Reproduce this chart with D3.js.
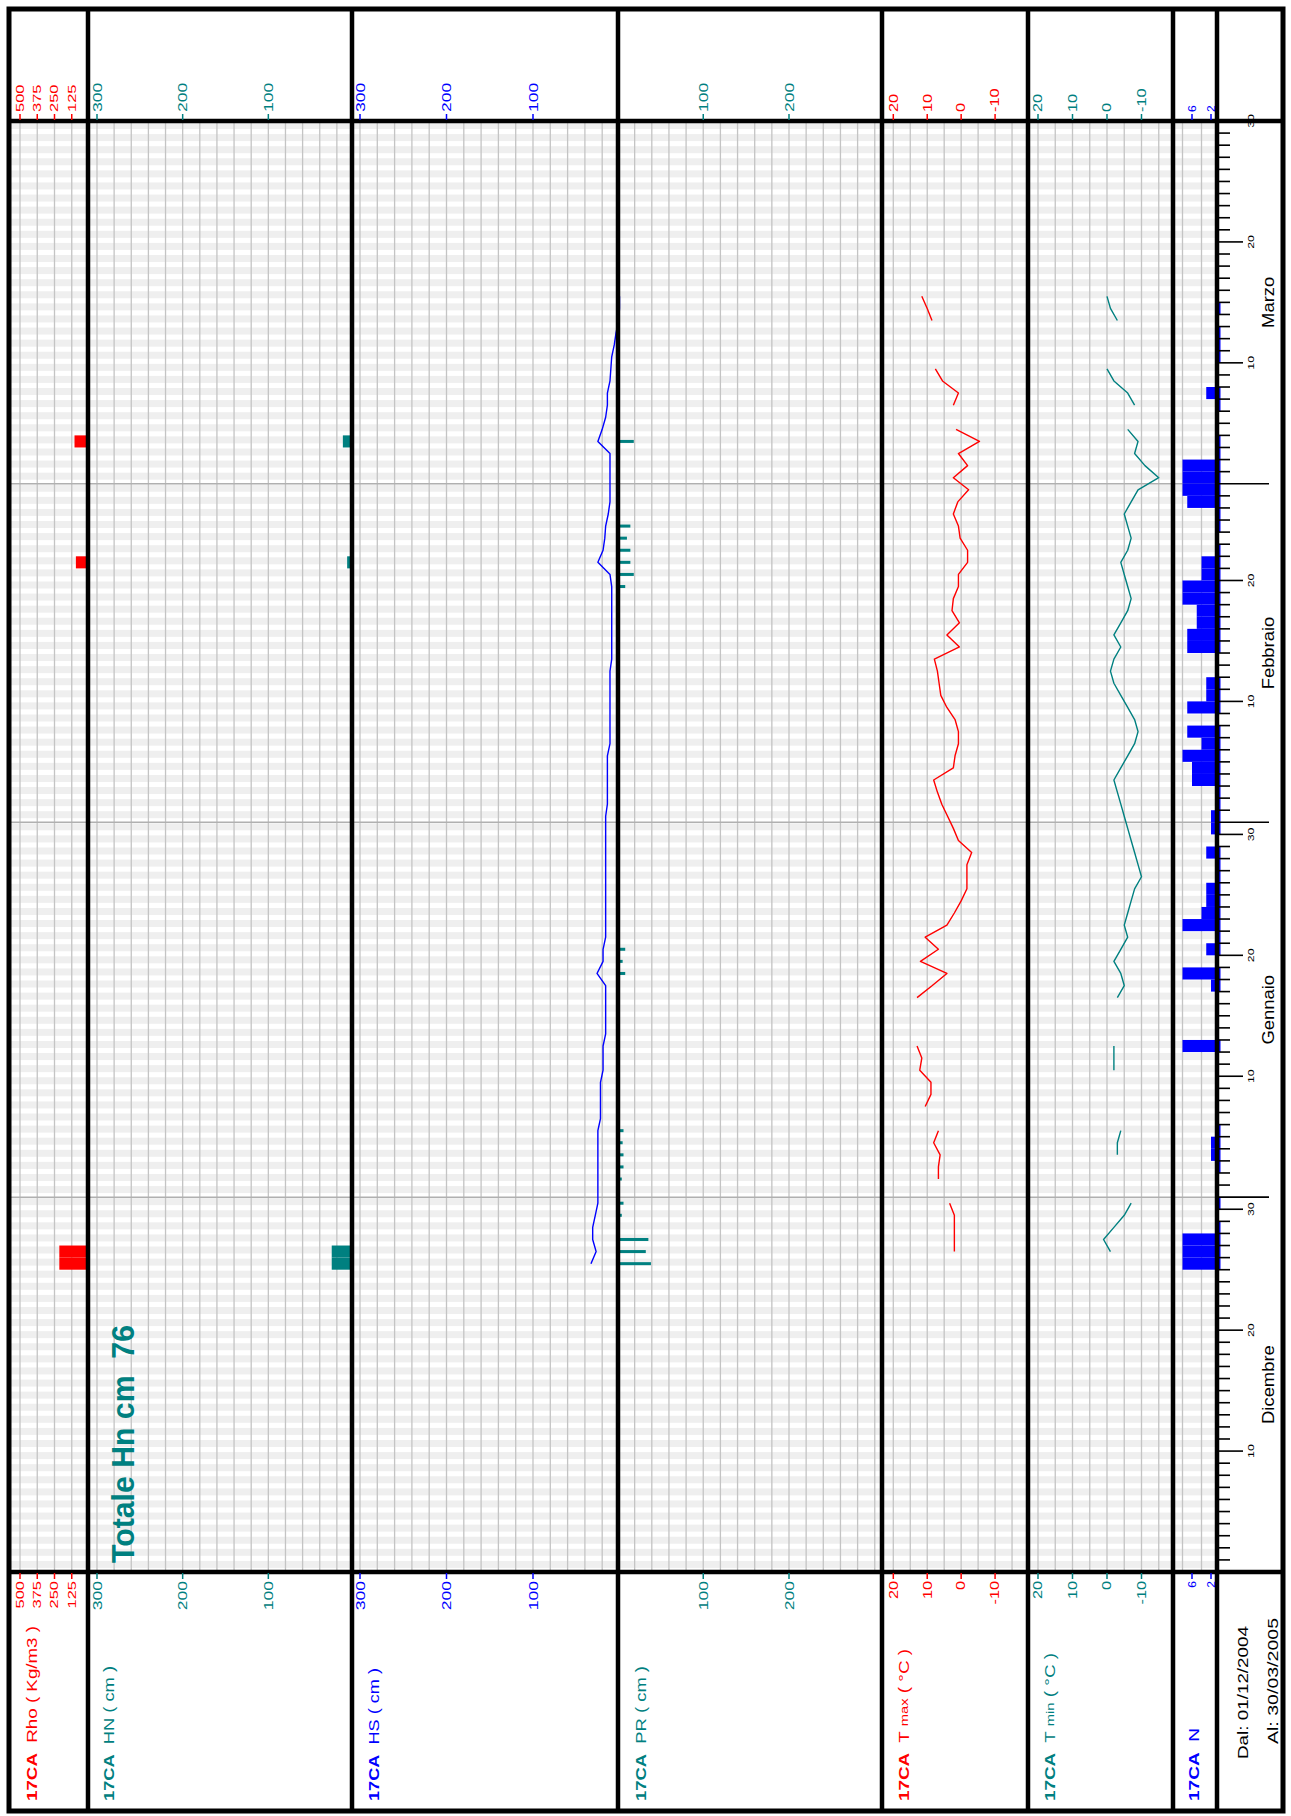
<!DOCTYPE html>
<html><head><meta charset="utf-8">
<script src="https://cdn.jsdelivr.net/npm/d3@7"></script>
<style>body{margin:0;background:#fff}svg{display:block}text{font-family:"Liberation Sans",Arial,sans-serif}</style>
</head><body><svg id="c" width="1291" height="1816"></svg>
<script>
// ---------------- DATA ----------------
const periodStart = "2004-12-01";
const periodDays = 120;
const monthNames = ["Dicembre", "Gennaio", "Febbraio", "Marzo"];
const monthLengths = [31, 31, 28, 30];
const dayLabels = [10, 20, 30];

// tick labels of each panel
const rhoTicks = [500, 375, 250, 125];
const hnTicks = [300, 200, 100];
const hsTicks = [300, 200, 100];
const prTicks = [100, 200];
const tTicks = [20, 10, 0, -10];
const nTicks = [6, 2];

// Rho (kg/m3) - density of fresh snow
const rhoDates = ["2004-12-26", "2004-12-27", "2005-02-22", "2005-03-04"];
const rhoValues = [215, 215, 95, 105];

// HN (cm) - new snow
const hnDates = ["2004-12-26", "2004-12-27", "2005-01-19", "2005-02-22", "2005-03-04"];
const hnValues = [26, 26, 3, 8, 13];
const hnTotal = 76;

// PR (cm) - penetration
const prDates = ["2004-12-26", "2004-12-27", "2004-12-28", "2004-12-30", "2004-12-31",
  "2005-01-02", "2005-01-03", "2005-01-04", "2005-01-05", "2005-01-06",
  "2005-01-19", "2005-01-20", "2005-01-21",
  "2005-02-20", "2005-02-21", "2005-02-22", "2005-02-23", "2005-02-24", "2005-02-25", "2005-03-04"];
const prValues = [39, 33, 36, 5, 7, 5, 7, 7, 6, 7, 9, 6, 9, 9, 19, 15, 15, 11, 15, 19];

// HS (cm) - snow depth, daily from 2004-12-26
const hsStart = "2004-12-26";
const hsValues = [33, 27, 31, 31, 28, 25, 25, 25, 25, 25, 25, 25, 22, 22, 22, 22, 19, 19, 19, 16,
  16, 16, 16, 16, 26, 19, 19, 16, 16, 16, 16, 16, 16, 16, 16, 16, 16, 16, 14, 14,
  14, 14, 14, 11, 11, 11, 11, 11, 11, 11, 9, 9, 9, 9, 9, 9, 9, 11, 25, 19,
  17, 16, 13, 11, 11, 11, 11, 11, 25, 20, 16, 14, 14, 11, 10, 9, 6, 4, 1, 0, 0];

// T max (°C), daily from 2004-12-27
const tmaxStart = "2004-12-27";
const tmaxValues = [2, 2, 2, 2, 3.4, null, 6.7, 6.7, 6.2, 8.1, 6.7, null, 10.6, 8.9, 8.9, 12.2, 11.6, 13, null, null,
  null, 13, 8.5, 4.2, 12, 6.7, 10.6, 4.2, 2, 0, -1.7, -1.7, -1.7, -3.1, 0.8, 2.3, 4, 5.7, 7, 8.1,
  2.3, 1.8, 0.8, 0.8, 1.8, 4.2, 6, 6.5, 7, 7.9, 0.5, 4.2, 0.5, 2.7, 2.3, 0.8, 0.8, -1.9, -1.9, 0.3,
  0.8, 2.3, 1, -2.2, 2.3, -1.9, 0.8, -5.4, 1.5, null, 2.3, 0.8, 5.5, 7.6, null, null, null, 8.6, 10, 11.6];

// T min (°C), daily from 2004-12-27
const tminStart = "2004-12-27";
const tminValues = [-1, 1, -2, -5, -7, null, null, null, -3, -3, -4, null, null, null, null, -2, -2, -2, null, null,
  null, -3, -5, -4, -2, -4, -6, -5, -6, -7, -8, -10, -9, -8, -7, -6, -5, -4, -3, -2,
  -4, -6, -8, -9, -8, -6, -4, -2, -1, -2, -4, -2, -4, -6, -7, -6, -5, -4, -6, -7,
  -6, -5, -7, -9, -15, -11, -8, -9, -6, null, -8, -6, -2, 0, null, null, null, -3, -1, 0];

// N (oktas) - cloud cover
const nDates = ["2004-12-26", "2004-12-27", "2004-12-28", "2004-12-29", "2004-12-31", "2005-01-03", "2005-01-04",
  "2005-01-05", "2005-01-06", "2005-01-13", "2005-01-18", "2005-01-19", "2005-01-21", "2005-01-22", "2005-01-23",
  "2005-01-24", "2005-01-25", "2005-01-26", "2005-01-27", "2005-01-28", "2005-01-29", "2005-01-31", "2005-02-01",
  "2005-02-02", "2005-02-03", "2005-02-04", "2005-02-05", "2005-02-06", "2005-02-07", "2005-02-08", "2005-02-10",
  "2005-02-11", "2005-02-12", "2005-02-15", "2005-02-16", "2005-02-17", "2005-02-18", "2005-02-19", "2005-02-20",
  "2005-02-21", "2005-02-22", "2005-02-23", "2005-02-25", "2005-02-26", "2005-02-27", "2005-02-28", "2005-03-01",
  "2005-03-02", "2005-03-03", "2005-03-04", "2005-03-07", "2005-03-08", "2005-03-11", "2005-03-12", "2005-03-13", "2005-03-15"];
const nValues = [8, 8, 8, 1, 0.5, 0.5, 2, 2, 1, 8, 2, 8, 3, 0.5, 8,
  4, 3, 3, 1, 1, 3, 2, 2, 1, 1, 6, 6, 8, 4, 7, 7,
  3, 3, 7, 7, 5, 5, 8, 8, 4, 4, 1, 1, 1, 7, 8, 8,
  8, 0.5, 0.5, 0.5, 3, 0.5, 0.5, 1, 0.5];

const dateFrom = "Dal: 01/12/2004";
const dateTo = "Al: 30/03/2005";

// ---------------- LAYOUT ----------------
const svg = d3.select("#c");
const F = {l: 9, r: 1283, t: 9, b: 1811};
const headY = 121, plotB = 1572;
const seps = [88, 352, 618, 882, 1028, 1173, 1217];
const axisX = 1219;
const TEAL = "#008080", RED = "#ff0000", BLUE = "#0000ff";

const t0 = Date.parse(periodStart + "T00:00:00Z");
const idx = s => (Date.parse(s + "T00:00:00Z") - t0) / 864e5;

const y = d3.scaleLinear().domain([0, periodDays]).range([plotB, headY]);
const xRho = d3.scaleLinear().domain([0, 500]).range([89, 20]);
const xHN = d3.scaleLinear().domain([0, 300]).range([354, 97]);
const xHS = d3.scaleLinear().domain([0, 300]).range([619.5, 360]);
const xPR = d3.scaleLinear().domain([0, 300]).range([617.5, 874.75]);
const xTmax = d3.scaleLinear().domain([20, -20]).range([893.3, 1029]);
const xTmin = d3.scaleLinear().domain([20, -20]).range([1038, 1176]);
const xN = d3.scaleLinear().domain([0, 8]).range([1220.5, 1182.5]);

function vtext(g, x, yy, str, o = {}) {
  const tr = `translate(${x},${yy}) rotate(-90)` + (o.sx ? ` scale(${o.sx},1)` : "");
  const t = g.append("text").attr("transform", tr)
    .attr("text-anchor", o.anchor || "start")
    .attr("dominant-baseline", "central")
    .attr("fill", o.color || "#000")
    .attr("font-size", o.size || 13)
    .attr("font-weight", o.weight || "normal")
    .style("white-space", "pre");
  if (Array.isArray(str)) {
    str.forEach(p => t.append("tspan").text(p.t)
      .attr("font-weight", p.w || null).attr("font-size", p.s || null));
  } else t.text(str);
  if (o.len) t.attr("textLength", o.len).attr("lengthAdjust", "spacingAndGlyphs");
  return t;
}

// white background
svg.append("rect").attr("width", 1291).attr("height", 1816).attr("fill", "#fff");

// daily stripes
const gBg = svg.append("g");
d3.range(periodDays).forEach(k => {
  gBg.append("rect").attr("x", F.l).attr("width", seps[6] - F.l)
    .attr("y", y(k + 1) + 1).attr("height", 7).attr("fill", "#efefef");
});

// vertical grid lines per panel
const gGrid = svg.append("g").attr("stroke", "#c4c4c4").attr("stroke-width", 1.3);
function vgrid(scale, vals) {
  vals.forEach(v => gGrid.append("line").attr("x1", scale(v)).attr("x2", scale(v))
    .attr("y1", headY).attr("y2", plotB));
}
vgrid(xRho, rhoTicks);
vgrid(xHN, d3.range(20, 301, 20));
vgrid(xHS, d3.range(20, 301, 20));
vgrid(xPR, d3.range(20, 301, 20));
vgrid(xTmax, d3.range(20, -16, -5));
vgrid(xTmin, d3.range(20, -16, -5));
vgrid(xN, [8, 4]);

// month boundary lines
let cum = 0;
const monthEnds = monthLengths.map(m => (cum += m));
monthEnds.slice(0, -1).forEach(k => {
  svg.append("line").attr("x1", F.l).attr("x2", seps[6]).attr("y1", y(k)).attr("y2", y(k))
    .attr("stroke", "#b0b0b0").attr("stroke-width", 1.5);
});

// ---------------- MARKS ----------------
const gData = svg.append("g");
// Rho bars
rhoDates.forEach((d, i) => {
  const k = idx(d);
  gData.append("rect").attr("x", xRho(rhoValues[i])).attr("width", xRho(0) - xRho(rhoValues[i]))
    .attr("y", y(k + 1)).attr("height", y(k) - y(k + 1)).attr("fill", RED);
});
// HN bars
hnDates.forEach((d, i) => {
  const k = idx(d);
  gData.append("rect").attr("x", xHN(hnValues[i])).attr("width", xHN(0) - xHN(hnValues[i]))
    .attr("y", y(k + 1)).attr("height", y(k) - y(k + 1)).attr("fill", TEAL);
});
// PR bars (thin)
prDates.forEach((d, i) => {
  const k = idx(d) + 0.5;
  gData.append("rect").attr("x", xPR(0)).attr("width", xPR(prValues[i]) - xPR(0))
    .attr("y", y(k) - 1.5).attr("height", 3).attr("fill", TEAL);
});
// N bars
nDates.forEach((d, i) => {
  const k = idx(d);
  gData.append("rect").attr("x", xN(nValues[i])).attr("width", xN(0) - xN(nValues[i]))
    .attr("y", y(k + 1)).attr("height", y(k) - y(k + 1)).attr("fill", BLUE);
});
// lines
function series(start, vals) {
  const s = idx(start);
  return vals.map((v, i) => ({k: s + i + 0.5, v}));
}
function drawLine(data, xs, color) {
  const line = d3.line().defined(d => d.v !== null).x(d => xs(d.v)).y(d => y(d.k));
  gData.append("path").attr("d", line(data)).attr("fill", "none")
    .attr("stroke", color).attr("stroke-width", 1.4).attr("stroke-linejoin", "round");
}
drawLine(series(hsStart, hsValues), xHS, BLUE);
drawLine(series(tmaxStart, tmaxValues), xTmax, RED);
drawLine(series(tminStart, tminValues), xTmin, TEAL);

// Totale
vtext(svg, 123, 1563, "Totale Hn cm  " + hnTotal, {size: 31, weight: "bold", color: TEAL, len: 238});

// ---------------- DATE AXIS ----------------
const gAx = svg.append("g");
let dayOfMonth = 0, mi = 0;
for (let k = 1; k <= periodDays; k++) {
  dayOfMonth++;
  const isEnd = dayOfMonth === monthLengths[mi];
  let len = 11;
  if (dayLabels.includes(dayOfMonth)) len = 24;
  if (isEnd && k < periodDays) len = 50;
  gAx.append("line").attr("x1", axisX).attr("x2", axisX + len).attr("y1", y(k)).attr("y2", y(k))
    .attr("stroke", "#000").attr("stroke-width", 1.6);
  if (dayLabels.includes(dayOfMonth)) {
    vtext(gAx, 1251, y(k), String(dayOfMonth), {size: 9.5, anchor: "middle", sx: 1.3});
  }
  if (isEnd) { dayOfMonth = 0; mi++; }
}
let ms = 0;
monthLengths.forEach((m, i) => {
  vtext(gAx, 1268, y(ms + m / 2), monthNames[i], {size: 16, anchor: "middle", sx: 1.15});
  ms += m;
});

// ---------------- FRAME ----------------
const gF = svg.append("g").attr("stroke", "#000");
gF.append("rect").attr("x", F.l).attr("y", F.t).attr("width", F.r - F.l).attr("height", F.b - F.t)
  .attr("fill", "none").attr("stroke-width", 5);
[headY, plotB].forEach(yy => gF.append("line").attr("x1", F.l).attr("x2", F.r)
  .attr("y1", yy).attr("y2", yy).attr("stroke-width", 4.5));
seps.forEach(x => gF.append("line").attr("x1", x).attr("x2", x)
  .attr("y1", F.t).attr("y2", F.b).attr("stroke-width", 4.5));

// ---------------- TICK LABELS ----------------
const gT = svg.append("g");
function ticks(scale, vals, color, size, sx) {
  vals.forEach(v => {
    const x = scale(v);
    [[headY - 7, headY - 1], [plotB + 1, plotB + 7]].forEach(([a, b]) =>
      gT.append("line").attr("x1", x).attr("x2", x).attr("y1", a).attr("y2", b)
        .attr("stroke", color).attr("stroke-width", 1.5));
    vtext(gT, x, headY - 9, String(v), {size, sx, color});
    vtext(gT, x, plotB + 9, String(v), {size, sx, color, anchor: "end"});
  });
}
ticks(xRho, rhoTicks, RED, 11, 1.5);
ticks(xHN, hnTicks, TEAL, 13, 1.35);
ticks(xHS, hsTicks, BLUE, 13, 1.35);
ticks(xPR, prTicks, TEAL, 13, 1.35);
ticks(xTmax, tTicks, RED, 12.5, 1.3);
ticks(xTmin, tTicks, TEAL, 12.5, 1.3);
ticks(xN, nTicks, BLUE, 10, 1.2);

// ---------------- PANEL LABELS ----------------
const labels = [
  {x: 32, parts: [{t: "17CA", w: "bold"}, {t: "  Rho ( Kg/m3 )"}], c: RED, len: 175},
  {x: 109, parts: [{t: "17CA", w: "bold"}, {t: "  HN ( cm )"}], c: TEAL, len: 135},
  {x: 374, parts: [{t: "17CA", w: "bold"}, {t: "  HS ( cm )"}], c: BLUE, len: 133},
  {x: 641, parts: [{t: "17CA", w: "bold"}, {t: "  PR ( cm )"}], c: TEAL, len: 135},
  {x: 904, parts: [{t: "17CA", w: "bold"}, {t: "  T "}, {t: "max", s: 11}, {t: " ( °C )"}], c: RED, len: 152},
  {x: 1050, parts: [{t: "17CA", w: "bold"}, {t: "  T "}, {t: "min", s: 11}, {t: " ( °C )"}], c: TEAL, len: 148},
  {x: 1194, parts: [{t: "17CA", w: "bold"}, {t: "  N"}], c: BLUE, len: 73}
];
labels.forEach(l => vtext(svg, l.x, 1801, l.parts, {size: 14, color: l.c, len: l.len}));
vtext(svg, 1242, 1759, dateFrom, {size: 15, len: 133});
vtext(svg, 1272, 1744, dateTo, {size: 15, len: 126});
</script></body></html>
